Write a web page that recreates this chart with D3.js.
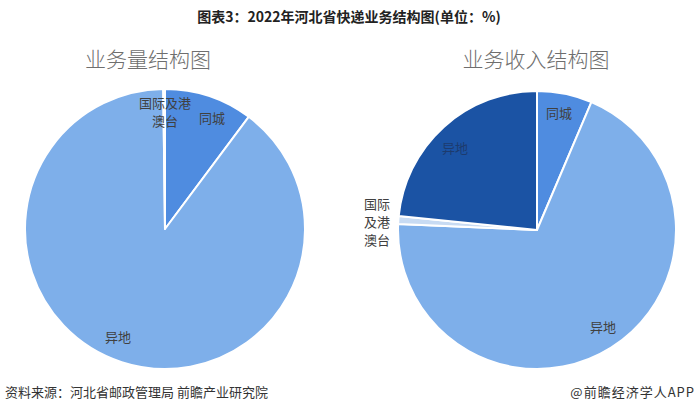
<!DOCTYPE html>
<html lang="zh">
<head>
<meta charset="UTF-8" />
<title>2022年河北省快递业务结构图</title>
<style>
  body { margin: 0; background: #fff; font-family: "Noto Sans CJK SC", "Noto Sans", sans-serif; }
</style>
</head>
<body>
<div id="chart"></div>
<script src="https://d3js.org/d3.v7.min.js"></script>
<script>
// 业务量结构 (%), clockwise from 12 o'clock
const volumeLabels = ["同城", "异地", "国际及港澳台"];
const volumeValues = [10.2, 89.6, 0.2];

// 业务收入结构 (%)
const revenueLabels = ["同城", "异地", "国际及港澳台", "异地"];
const revenueValues = [6.4, 69.3, 0.9, 23.4];

const W = 700, H = 419;
const svg = d3.select("#chart").append("svg").attr("width", W).attr("height", H);

svg.append("text")
  .attr("x", 349).attr("y", 22)
  .attr("text-anchor", "middle")
  .attr("font-size", "14px")
  .attr("font-weight", "bold")
  .attr("fill", "#222")
  .text("图表3：2022年河北省快递业务结构图(单位：%)");

const subtitle = (x, t) => svg.append("text")
  .attr("x", x).attr("y", 67)
  .attr("text-anchor", "middle")
  .attr("font-size", "21px")
  .attr("font-weight", 300)
  .attr("fill", "#6e6e6e")
  .text(t);
subtitle(148, "业务量结构图");
subtitle(536, "业务收入结构图");

const pie = d3.pie().sort(null).value(d => d.value);

function drawPie(cx, cy, r, labels, values, colors, labelPos) {
  const data = labels.map((l, i) => ({ label: l, value: values[i] }));
  const arc = d3.arc().innerRadius(0).outerRadius(r);
  const g = svg.append("g").attr("transform", `translate(${cx},${cy})`);
  const arcs = pie(data);
  g.selectAll("path").data(arcs).enter().append("path")
    .attr("d", arc)
    .attr("fill", (d, i) => colors[i])
    .attr("stroke", "#fff")
    .attr("stroke-width", 2)
    .attr("stroke-linejoin", "round");

  arcs.forEach((a, i) => {
    const p = labelPos[i];
    p.lines.forEach((ln, k) => {
      g.append("text")
        .attr("text-anchor", "middle")
        .attr("font-size", "13px")
        .attr("fill", p.color || "#404040")
        .attr("x", p.x).attr("y", p.y + k * 18)
        .attr("dy", "0.35em")
        .text(ln);
    });
  });
}

drawPie(165, 229, 140, volumeLabels, volumeValues,
  ["#4f8ce0", "#7eafea", "#c8dbf3"],
  [
    { x: 47, y: -111, lines: ["同城"] },
    { x: -47, y: 108, lines: ["异地"] },
    { x: 0, y: -126, lines: ["国际及港", "澳台"] }
  ]);

drawPie(537, 230, 139, revenueLabels, revenueValues,
  ["#4f8ce0", "#7eafea", "#c8dbf3", "#1b53a4"],
  [
    { x: 22, y: -117, lines: ["同城"] },
    { x: 66, y: 97, lines: ["异地"] },
    { x: -160, y: -26, lines: ["国际", "及港", "澳台"] },
    { x: -82, y: -82, lines: ["异地"], color: "#1d3b6e" }
  ]);

svg.append("text")
  .attr("x", 5).attr("y", 397)
  .attr("font-size", "13px")
  .attr("fill", "#333")
  .text("资料来源：河北省邮政管理局 前瞻产业研究院");

svg.append("text")
  .attr("x", 695).attr("y", 397)
  .attr("text-anchor", "end")
  .attr("font-size", "13px")
  .attr("letter-spacing", "1px")
  .attr("fill", "#333")
  .text("@前瞻经济学人APP");
</script>
</body>
</html>
